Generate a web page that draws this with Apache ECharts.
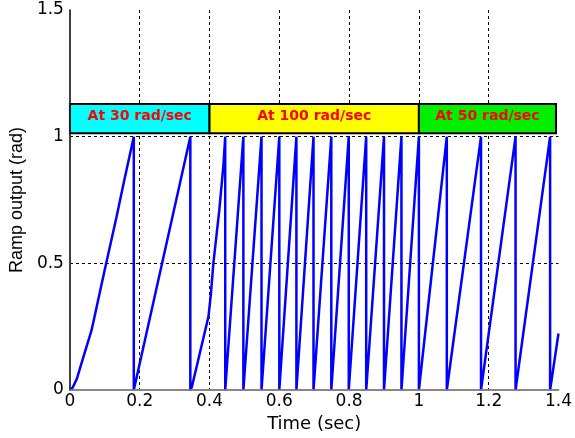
<!DOCTYPE html>
<html>
<head>
<meta charset="utf-8">
<script src="https://cdn.jsdelivr.net/npm/echarts@6/dist/echarts.min.js"></script>
<style>html,body{margin:0;padding:0;background:#fff;}#c{width:575px;height:438px;}</style>
</head>
<body>
<div id="c"></div>
<script>
// Ramp output samples (time in sec, output in rad)
var timeVals = [
  0, 0.008, 0.020, 0.033, 0.062, 0.099, 0.133, 0.156, 0.183, 0.183,
  0.345, 0.345,
  0.349, 0.397, 0.404, 0.411, 0.428, 0.440, 0.445, 0.445,
  0.497, 0.497, 0.549, 0.549, 0.600, 0.600, 0.649, 0.649, 0.698, 0.698,
  0.749, 0.749, 0.799, 0.799, 0.849, 0.849, 0.900, 0.900, 0.950, 0.950,
  1.000, 1.000,
  1.080, 1.080, 1.178, 1.178, 1.277, 1.277, 1.376, 1.376, 1.400
];
var rampVals = [
  0, 0.01, 0.045, 0.105, 0.236, 0.47, 0.68, 0.83, 1.0, 0,
  1.0, 0,
  0.01, 0.29, 0.38, 0.50, 0.71, 0.89, 1.0, 0,
  1.0, 0, 1.0, 0, 1.0, 0, 1.0, 0, 1.0, 0,
  1.0, 0, 1.0, 0, 1.0, 0, 1.0, 0, 1.0, 0,
  1.0, 0,
  1.0, 0, 1.0, 0, 1.0, 0, 1.0, 0, 0.223
];
// Speed annotation boxes
var boxLabels = ['At 30 rad/sec', 'At 100 rad/sec', 'At 50 rad/sec'];
var boxStarts = [0, 0.4, 1.0];
var boxEnds = [0.4, 1.0, 1.393];
var boxBottom = 1.013;
var boxTop = 1.129;
var boxColors = ['#00ffff', '#ffff00', '#00ee00'];
// Axis ticks
var xTicks = [0, 0.2, 0.4, 0.6, 0.8, 1.0, 1.2, 1.4];
var xTickLabels = ['0', '0.2', '0.4', '0.6', '0.8', '1', '1.2', '1.4'];
var yTicks = [0, 0.5, 1.0, 1.5];
var yTickLabels = ['0', '0.5', '1', '1.5'];

function lookup(ticks, labels, v) {
  for (var i = 0; i < ticks.length; i++) if (Math.abs(ticks[i] - v) < 1e-6) return labels[i];
  return '';
}

var points = timeVals.map(function (t, i) { return [t, rampVals[i]]; });
var areas = boxLabels.map(function (name, i) {
  return [
    { name: name, xAxis: boxStarts[i], yAxis: boxBottom,
      itemStyle: { color: boxColors[i], borderColor: '#000', borderWidth: 2, opacity: 1 } },
    { xAxis: boxEnds[i], yAxis: boxTop }
  ];
});

var tickFont = { color: '#000', fontSize: 17, fontFamily: 'DejaVu Sans' };
var grid = { color: '#000', type: [3, 3], width: 1 };

var chart = echarts.init(document.getElementById('c'), null, { renderer: 'canvas' });
chart.setOption({
  animation: false,
  backgroundColor: '#fff',
  grid: { left: 68, right: 14, top: 10, bottom: 48, containLabel: false },
  xAxis: [{
    type: 'value', min: 0, max: 1.4, interval: 0.2, position: 'bottom',
    axisLine: { show: true, lineStyle: { color: '#808080', width: 1.5 } },
    axisTick: { show: false },
    axisLabel: Object.assign({ margin: 3, formatter: function (v) { return lookup(xTicks, xTickLabels, v); } }, tickFont),
    splitLine: { show: true, showMinLine: false, showMaxLine: false, lineStyle: grid },
    name: 'Time (sec)', nameLocation: 'middle', nameGap: 22,
    nameTextStyle: { color: '#000', fontSize: 18, fontFamily: 'DejaVu Sans' }
  }, {
    type: 'value', min: 0, max: 1.4, position: 'top', z: 5,
    axisLine: { show: true, lineStyle: { color: '#808080', width: 1.5 } },
    axisTick: { show: false }, axisLabel: { show: false }, splitLine: { show: false }
  }],
  yAxis: [{
    type: 'value', min: 0, max: 1.5, interval: 0.5, position: 'left',
    axisLine: { show: true, lineStyle: { color: '#808080', width: 1.5 } },
    axisTick: { show: false },
    axisLabel: Object.assign({ margin: 6, formatter: function (v) { return lookup(yTicks, yTickLabels, v); } }, tickFont),
    splitLine: { show: true, showMinLine: false, showMaxLine: false, lineStyle: grid },
    name: 'Ramp output (rad)', nameLocation: 'middle', nameGap: 40,
    nameTextStyle: { color: '#000', fontSize: 18, fontFamily: 'Liberation Sans, Arial' }
  }, {
    type: 'value', min: 0, max: 1.5, position: 'right', z: 5,
    axisLine: { show: true, lineStyle: { color: '#222', width: 1.5 } },
    axisTick: { show: false }, axisLabel: { show: false }, splitLine: { show: false }
  }],
  series: [{
    type: 'line',
    data: points,
    xAxisIndex: 0, yAxisIndex: 0,
    showSymbol: false, symbol: 'none',
    lineStyle: { color: '#0000ff', width: 2.5 },
    itemStyle: { color: '#0000ff' },
    markArea: {
      silent: true,
      label: { show: true, position: 'inside', color: '#ff0000', fontWeight: 'bold',
               fontSize: 14, fontFamily: 'DejaVu Sans', offset: [0, -2] },
      data: areas
    }
  }]
});
</script>
</body>
</html>
